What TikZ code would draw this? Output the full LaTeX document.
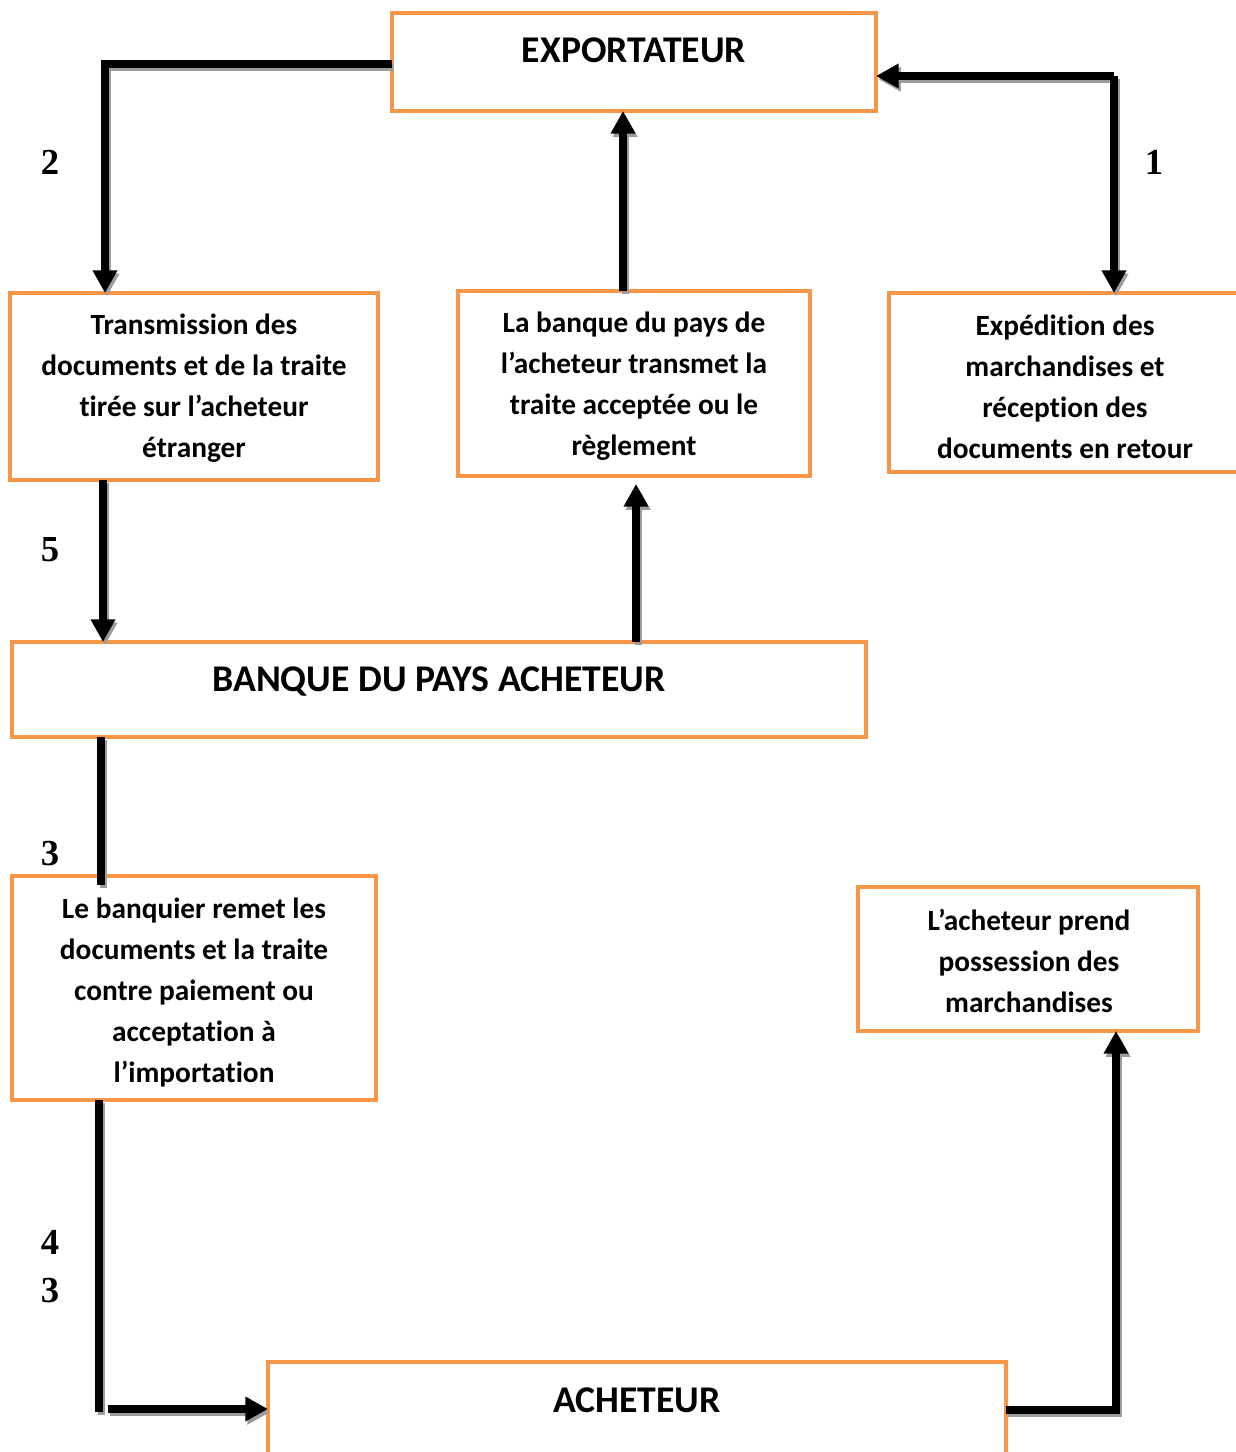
\documentclass[tikz,border=0pt]{standalone}
\usepackage{fontspec}
\setmainfont[Ligatures=NoCommon]{Carlito}
\newfontfamily\numfont{Liberation Serif}
\usetikzlibrary{arrows.meta}
\definecolor{boxorange}{HTML}{F79646}
\definecolor{shadowgray}{HTML}{9C9C9C}
\begin{document}
\begin{tikzpicture}[x=0.75pt,y=-0.75pt,
  box/.style={draw=boxorange, line width=3pt, fill=white, inner sep=0pt, outer sep=0pt, rectangle},
  bodytxt/.style={align=center, inner sep=0pt, font=\fontsize{22}{30.75}\selectfont\bfseries},
  titletxt/.style={inner sep=0pt, font=\fontsize{28.3}{33}\selectfont\bfseries},
  numtxt/.style={inner sep=0pt, font=\fontsize{27.5}{33}\selectfont\numfont\bfseries},
  conn/.style={line width=5.4pt, line cap=butt,
    preaction={draw=shadowgray, line width=5.4pt, transform canvas={shift={(1.6pt,-2.4pt)}}}},
  arrow/.style={line width=5.4pt, line cap=butt, -{Triangle[width=17.5pt,length=17pt]},
    preaction={draw=shadowgray, line width=5.4pt, -{Triangle[width=17.5pt,length=17pt]},
      transform canvas={shift={(1.6pt,-2.4pt)}}}}
]
\useasboundingbox (0,0) rectangle (1235,1452);

% boxes
\node[box, minimum width=363pt,   minimum height=73.5pt]   (exp)  at (634,62)     {};
\node[box, minimum width=276pt,   minimum height=140.25pt] (trans) at (194,386.5) {};
\node[box, minimum width=264pt,   minimum height=138.75pt] (lab)  at (634,383.5)  {};
\node[box, minimum width=267pt,   minimum height=134.25pt] (expd) at (1067,382.5) {};
\node[box, minimum width=640.5pt, minimum height=71.25pt]  (bpa)  at (439,689.5)  {};
\node[box, minimum width=273pt,   minimum height=168pt]    (banq) at (194,988)    {};
\node[box, minimum width=255pt,   minimum height=108pt]    (poss) at (1028,959)   {};
\node[box, minimum width=553.5pt, minimum height=75pt]     (ach)  at (637,1412)   {};

% box texts
\node[titletxt] (texp) at (634,50) {EXPORTATEUR};
\node[bodytxt] (ttrans) at (194,388) {Transmission des\\documents et de la traite\\tirée sur l’acheteur\\étranger};
\node[bodytxt] (tlab) at (634,386) {La banque du pays de\\l’acheteur transmet la\\traite acceptée ou le\\règlement};
\node[bodytxt] (texpd) at (1065,387) {Expédition des\\marchandises et\\réception des\\documents en retour};
\node[titletxt] (tbpa) at (439,681) {BANQUE DU PAYS ACHETEUR};
\node[bodytxt] (tbanq) at (194,993) {Le banquier remet les\\documents et la traite\\contre paiement ou\\acceptation à\\l’importation};
\node[bodytxt] (tposs) at (1029,961) {L’acheteur prend\\possession des\\marchandises};
\node[titletxt] (tach) at (637,1400) {ACHETEUR};

% step numbers
\node[numtxt] (n2)  at (50,162)   {2};
\node[numtxt] (n1)  at (1154,162) {1};
\node[numtxt] (n5)  at (50,550)   {5};
\node[numtxt] (n3a) at (50,854)   {3};
\node[numtxt] (n4)  at (50,1242)  {4};
\node[numtxt] (n3b) at (50,1291)  {3};

% bend points and connector lanes
\coordinate (c2) at (105,64);
\coordinate (c1) at (1114,76);
\coordinate (v1) at (623,0);
\coordinate (v5) at (103,0);
\coordinate (v6) at (636,0);
\coordinate (v7) at (101,885);
\coordinate (c4) at (99,1412);
\coordinate (c4b) at (108,1409);
\coordinate (c5) at (1116,1410);

% connectors
\draw[arrow] (exp.west |- c2) -- (c2) -- (c2 |- trans.north);
\draw[arrow] (c1) -- (c1 -| exp.east);
\draw[arrow] (c1) -- (c1 |- expd.north);
\draw[arrow] (lab.north -| v1) -- (exp.south -| v1);
\draw[arrow] (trans.south -| v5) -- (bpa.north -| v5);
\draw[arrow, shorten >=6pt] (bpa.north -| v6) -- (lab.south -| v6);
\draw[conn] (bpa.south -| v7) -- (v7);
\draw[conn] (banq.south -| c4) -- (c4);
\draw[arrow] (c4b) -- (c4b -| ach.west);
\draw[arrow] (ach.east |- c5) -- (c5) -- (c5 |- poss.south);
\end{tikzpicture}
\end{document}
